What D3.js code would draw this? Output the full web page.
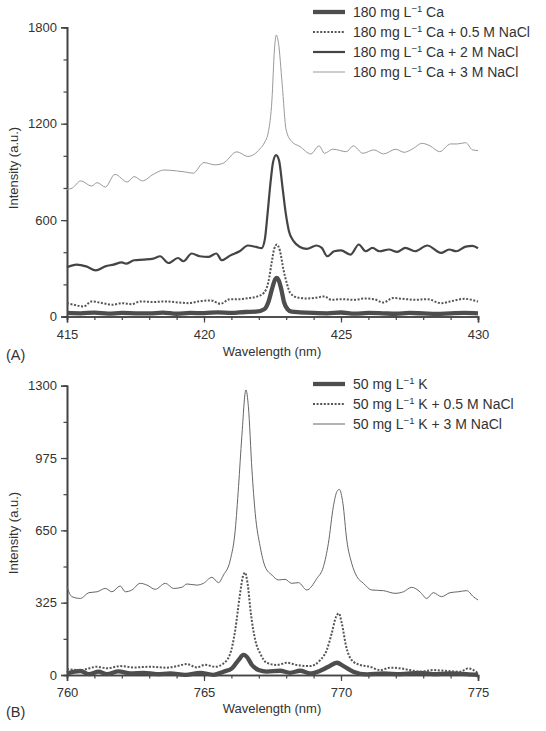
<!DOCTYPE html>
<html>
<head>
  <style>
    body { margin: 0; background: white; }
    svg text { font-family: "Liberation Sans", Arial, sans-serif; fill: #333; }
  </style>
</head>
<body>
  <div id="chart"></div>

  <script src="https://cdnjs.cloudflare.com/ajax/libs/d3/7.8.5/d3.min.js"></script>
  <script>
    // Panel A: Ca 422.7 nm line, [wavelength, intensity]
    const ca0 = [[415,22],[415.5,20],[416,24],[416.5,18],[417,22],[417.5,20],[418,19],[418.5,24],[419,17],[419.5,22],[420,21],[420.5,26],[421,22],[421.5,28],[421.9,30],[422.2,45],[422.35,90],[422.48,170],[422.58,225],[422.65,240],[422.72,228],[422.82,170],[422.92,90],[423.05,45],[423.2,30],[423.5,26],[424,22],[424.5,20],[425,25],[425.5,18],[426,22],[426.5,20],[427,17],[427.5,22],[428,19],[428.5,16],[429,20],[429.5,22],[430,20]];
    const ca05 = [[415,83],[415.25,73],[415.6,62],[415.9,94],[416.3,83],[416.65,73],[417,83],[417.35,77],[417.7,94],[418.15,90],[418.6,94],[419.1,87],[419.45,83],[419.8,94],[420.25,100],[420.6,79],[420.95,108],[421.3,108],[421.65,115],[421.95,125],[422.2,150],[422.35,215],[422.47,335],[422.56,420],[422.66,448],[422.77,410],[422.9,292],[423.02,208],[423.15,146],[423.4,119],[423.75,112],[424.1,117],[424.4,125],[424.65,104],[425,108],[425.5,104],[425.85,112],[426.2,108],[426.55,87],[426.9,115],[427.35,108],[427.7,104],[428.15,108],[428.65,83],[429.1,98],[429.5,110],[430,93]];
    const ca2 = [[415,306],[415.35,323],[415.7,312],[416.05,287],[416.4,312],[416.7,323],[417,337],[417.15,329],[417.45,350],[417.8,354],[418.15,360],[418.4,375],[418.7,333],[419.05,364],[419.25,344],[419.55,392],[419.85,375],[420.15,371],[420.45,392],[420.65,350],[420.95,379],[421.3,406],[421.6,442],[421.9,433],[422.1,425],[422.22,480],[422.32,640],[422.42,820],[422.52,960],[422.63,1004],[422.74,970],[422.86,812],[422.98,646],[423.1,531],[423.27,469],[423.5,433],[423.75,421],[424.1,442],[424.3,427],[424.5,375],[424.75,406],[425,412],[425.35,385],[425.65,448],[425.9,406],[426.15,427],[426.4,406],[426.75,417],[427.05,402],[427.35,427],[427.7,406],[428.15,442],[428.65,396],[428.95,417],[429.2,406],[429.55,435],[429.8,440],[430,425]];
    const ca3 = [[415,790],[415.2,800],[415.5,844],[415.9,812],[416.1,833],[416.4,806],[416.75,885],[417.2,837],[417.45,871],[417.75,844],[418.15,885],[418.55,912],[419,906],[419.3,900],[419.6,892],[420,958],[420.4,944],[420.7,954],[421.2,1025],[421.6,996],[422.05,1045],[422.2,1080],[422.35,1150],[422.48,1348],[422.57,1659],[422.64,1752],[422.72,1700],[422.85,1452],[423,1160],[423.2,1089],[423.5,1058],[423.9,1012],[424.2,1062],[424.4,1016],[424.7,1041],[425.2,1026],[425.45,1062],[425.8,1016],[426.2,1037],[426.55,1012],[427,1041],[427.3,1022],[427.65,1047],[427.95,1078],[428.25,1062],[428.6,1026],[429,1074],[429.25,1074],[429.55,1082],[429.8,1037],[430,1033]];

    // Panel B: K doublet
    const k0 = [[760,7],[760.49,18],[760.8,4],[761.15,15],[761.46,4],[761.88,16],[762.31,7],[762.8,10],[763.28,4],[763.77,7],[764.32,1],[764.86,10],[765.35,1],[765.71,15],[766.02,30],[766.26,67],[766.44,90],[766.56,82],[766.75,45],[766.99,22],[767.29,15],[767.78,19],[768.14,10],[768.51,19],[768.87,7],[769.24,19],[769.54,37],[769.85,55],[770.09,40],[770.45,15],[770.94,3],[771.55,7],[772.16,4],[772.88,10],[773.37,4],[773.98,7],[774.59,4],[775,0]];
    const k05 = [[760,27],[760.49,22],[761.1,37],[761.46,30],[761.94,40],[762.43,34],[763.04,37],[763.65,33],[764.01,40],[764.38,49],[764.74,34],[765.04,46],[765.41,37],[765.71,52],[765.96,97],[766.14,202],[766.3,352],[766.42,442],[766.5,460],[766.59,412],[766.71,277],[766.87,157],[767.05,97],[767.29,55],[767.66,45],[768.02,55],[768.39,45],[768.87,40],[769.24,67],[769.48,112],[769.66,187],[769.82,262],[769.92,277],[770.03,232],[770.19,127],[770.39,67],[770.7,45],[771.06,37],[771.43,22],[771.79,33],[772.16,30],[772.52,22],[772.88,15],[773.37,22],[773.86,18],[774.34,15],[774.65,30],[775,7]];
    const k3 = [[760,397],[760.18,352],[760.49,344],[760.8,370],[761.1,374],[761.4,389],[761.64,374],[761.94,400],[762.13,374],[762.37,382],[762.67,412],[762.92,404],[763.22,385],[763.59,412],[763.89,389],[764.19,394],[764.38,409],[764.74,404],[764.98,412],[765.29,439],[765.53,415],[765.71,449],[765.96,517],[766.14,651],[766.26,846],[766.38,1071],[766.53,1281],[766.62,1206],[766.75,921],[766.87,726],[767.05,577],[767.23,487],[767.48,449],[767.72,427],[767.96,430],[768.2,412],[768.45,415],[768.75,382],[769.12,434],[769.36,487],[769.54,592],[769.72,756],[769.85,824],[769.94,834],[770.07,771],[770.21,607],[770.39,502],[770.58,442],[770.82,412],[771.12,382],[771.55,379],[771.97,367],[772.28,374],[772.58,394],[772.88,374],[773.13,344],[773.37,370],[773.67,352],[773.98,370],[774.28,374],[774.59,379],[774.83,352],[775,337]];

    const caYTicks = [0, 600, 1200, 1800];
    const kYTicks = [0, 325, 650, 975, 1300];
    const caXTicks = [415, 420, 425, 430];
    const kXTicks = [760, 765, 770, 775];
    const caLegend = ["Ca", "Ca + 0.5 M NaCl", "Ca + 2 M NaCl", "Ca + 3 M NaCl"];
    const kLegend = ["K", "K + 0.5 M NaCl", "K + 3 M NaCl"];

    const width = 546, height = 731;
    const svg = d3.select("#chart").append("svg")
      .attr("width", width).attr("height", height);

    // line styles for each series
    const styles = {
      thick:  { color: "#4d4d4d", w: 4.3, dash: null },
      dotted: { color: "#555", w: 2, dash: "2,1.6" },
      mid:    { color: "#444", w: 2.2, dash: null },
      thinA:  { color: "#999", w: 1, dash: null },
      thinB:  { color: "#666", w: 1, dash: null }
    };

    function drawPanel(o) {
      const x = d3.scaleLinear().domain(o.xDomain).range([67, 478]);
      const y = d3.scaleLinear().domain(o.yDomain).range([o.y0, o.y1]);
      const g = svg.append("g");

      // minor ticks
      const xAxis = d3.axisBottom(x).tickValues(d3.range(o.xDomain[0], o.xDomain[1] + 0.5, 1))
        .tickSize(3.5).tickFormat("");
      g.append("g").attr("transform", `translate(0,${o.y0})`).call(xAxis);
      const yAxisMinor = d3.axisLeft(y).tickValues(d3.range(0, o.yDomain[1] + 1, o.yMinor))
        .tickSize(3.5).tickFormat("");
      g.append("g").attr("transform", "translate(67,0)").call(yAxisMinor);

      // major ticks
      g.append("g").attr("transform", `translate(0,${o.y0})`)
        .call(d3.axisBottom(x).tickValues(o.xTicks).tickSize(6).tickPadding(5).tickFormat(d3.format("d")))
        .call(a => a.selectAll("text").attr("font-size", 13).attr("dy", "0.85em"));
      g.append("g").attr("transform", "translate(67,0)")
        .call(d3.axisLeft(y).tickValues(o.yTicks).tickSize(6).tickPadding(4).tickFormat(d3.format("d")))
        .call(a => a.selectAll("text").attr("font-size", 13));

      g.selectAll(".domain").attr("stroke", "#444").attr("stroke-width", 1.6);
      g.selectAll(".tick line").attr("stroke", "#444").attr("stroke-width", 1.2);
      g.selectAll(".tick text").attr("fill", "#333").attr("font-family", "Liberation Sans, Arial, sans-serif");

      const line = d3.line().x(d => x(d[0])).y(d => y(d[1])).curve(d3.curveMonotoneX);

      o.series.forEach(s => {
        const st = styles[s.style];
        g.append("path").datum(s.data)
          .attr("fill", "none")
          .attr("stroke", st.color)
          .attr("stroke-width", st.w)
          .attr("stroke-dasharray", st.dash)
          .attr("stroke-linejoin", "round")
          .attr("d", line);
      });

      // legend
      o.series.forEach((s, i) => {
        const st = styles[s.style];
        const ly = o.legendY + i * 20;
        g.append("line")
          .attr("x1", 313).attr("x2", 345).attr("y1", ly).attr("y2", ly)
          .attr("stroke", st.color).attr("stroke-width", st.w)
          .attr("stroke-dasharray", st.dash);
        const t = g.append("text").attr("x", 353).attr("y", ly + 5).attr("font-size", 14);
        t.append("tspan").text(o.conc + " mg L");
        t.append("tspan").text("\u22121").attr("font-size", 9.5).attr("dy", -5.5);
        t.append("tspan").text(" " + o.legend[i]).attr("dy", 5.5);
      });

      g.append("text")
        .attr("transform", `translate(18,${o.labelY}) rotate(-90)`)
        .attr("text-anchor", "middle").attr("font-size", 13)
        .text("Intensity (a.u.)");
      g.append("text")
        .attr("x", 272).attr("y", o.titleY)
        .attr("text-anchor", "middle").attr("font-size", 13)
        .text("Wavelength (nm)");
      g.append("text")
        .attr("x", 6).attr("y", o.titleY + 4)
        .attr("font-size", 14.5)
        .text(o.tag);
    }

    drawPanel({
      xDomain: [415, 430], yDomain: [0, 1800], y0: 316.5, y1: 27.3,
      xTicks: caXTicks, yTicks: caYTicks, yMinor: 200,
      series: [
        { data: ca0, style: "thick" }, { data: ca05, style: "dotted" },
        { data: ca2, style: "mid" }, { data: ca3, style: "thinA" }
      ],
      legend: caLegend, conc: "180", legendY: 12,
      labelY: 168, titleY: 356, tag: "(A)"
    });

    drawPanel({
      xDomain: [760, 775], yDomain: [0, 1300], y0: 675, y1: 385.7,
      xTicks: kXTicks, yTicks: kYTicks, yMinor: 162.5,
      series: [
        { data: k0, style: "thick" }, { data: k05, style: "dotted" },
        { data: k3, style: "thinB" }
      ],
      legend: kLegend, conc: "50", legendY: 384,
      labelY: 533, titleY: 713, tag: "(B)"
    });
  </script>
</body>
</html>
